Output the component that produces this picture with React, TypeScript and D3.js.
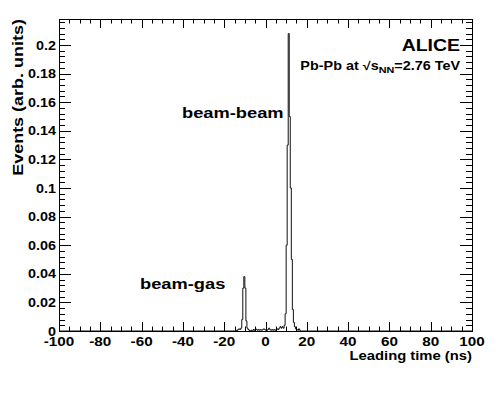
import React from "react";
import * as d3 from "d3";

// histogram: fraction of events per 0.5 ns bin, starting at -15 ns
const binStart = -15;
const binWidth = 0.5;
const events = [
  0, 0.0005, 0, 0.001, 0.0015, 0.001, 0.002, 0.008, 0.03, 0.038,
  0.03, 0.007, 0.002, 0.001, 0.0005, 0, 0.0005, 0, 0.001, 0.0005,
  0.0015, 0.001, 0.0005, 0.001, 0.0005, 0.001, 0.0005, 0.001, 0.0015, 0.001,
  0.0005, 0.0005, 0.001, 0.002, 0.001, 0.0005, 0.001, 0.0005, 0.001, 0.0005,
  0.001, 0.0015, 0.001, 0.002, 0.003, 0.002, 0.003, 0.002, 0.004, 0.012,
  0.06, 0.13, 0.208, 0.15, 0.1, 0.05, 0.015, 0.006, 0.003, 0.0015,
  0.001, 0.0005, 0.0015, 0.0005, 0,
];

const xTicks = [-100, -80, -60, -40, -20, 0, 20, 40, 60, 80, 100];
const yTicks = [0, 0.02, 0.04, 0.06, 0.08, 0.1, 0.12, 0.14, 0.16, 0.18, 0.2];

const W = 498;
const H = 396;
const frame = { left: 59, right: 472, top: 19, bottom: 331 };
const FONT = "'Liberation Sans', Arial, Helvetica, sans-serif";
const SX = 1.18; // ROOT raster font is wider than Arial

function Label(props: {
  x: number; y: number; size: number; anchor?: string; rotate?: number;
  sx?: number; children: React.ReactNode;
}) {
  const { x, y, size, anchor = "start", rotate = 0, sx = SX } = props;
  return (
    <text
      transform={`translate(${x},${y}) rotate(${rotate}) scale(${sx},1)`}
      fontFamily={FONT}
      fontWeight="bold"
      fontSize={size}
      textAnchor={anchor}
      fill="#000"
    >
      {props.children}
    </text>
  );
}

export default function App() {
  const x = d3.scaleLinear().domain([-100, 100]).range([frame.left, frame.right]);
  const y = d3.scaleLinear().domain([0, 0.2182]).range([frame.bottom, frame.top]);

  const pts: [number, number][] = [[-100, 0]];
  events.forEach((v, i) => pts.push([binStart + i * binWidth, v]));
  pts.push([binStart + events.length * binWidth, 0]);
  pts.push([100, 0]);

  const hist = d3
    .line<[number, number]>()
    .x((d) => x(d[0]))
    .y((d) => y(d[1]))
    .curve(d3.curveStepAfter);

  const xMinor = d3.range(-100, 100.1, 5);
  const yMinor = d3.range(0, 0.218, 0.004);

  return (
    <div style={{ position: "absolute", left: 0, top: 0 }}>
      <svg width={W} height={H} style={{ display: "block", background: "#fff" }}>
        {/* histogram */}
        <path d={hist(pts) || ""} fill="none" stroke="#111" strokeWidth={1} />

        {/* x ticks, bottom and top */}
        <g stroke="#000" strokeWidth={1}>
          {xMinor.map((t) => {
            const len = t % 20 === 0 ? 9 : 4.5;
            const px = Math.round(x(t)) + 0.5;
            return (
              <g key={"xt" + t}>
                <line x1={px} x2={px} y1={frame.bottom} y2={frame.bottom - len} />
                <line x1={px} x2={px} y1={frame.top} y2={frame.top + len} />
              </g>
            );
          })}
          {yMinor.map((t, i) => {
            const len = i % 5 === 0 ? 12 : 6;
            const py = Math.round(y(t)) + 0.5;
            return (
              <g key={"yt" + i}>
                <line x1={frame.left} x2={frame.left + len} y1={py} y2={py} />
                <line x1={frame.right} x2={frame.right - len} y1={py} y2={py} />
              </g>
            );
          })}
        </g>

        {/* frame */}
        <rect
          x={frame.left + 0.5}
          y={frame.top + 0.5}
          width={frame.right - frame.left}
          height={frame.bottom - frame.top}
          fill="none"
          stroke="#000"
          strokeWidth={1}
        />

        {/* tick labels */}
        {xTicks.map((t) => (
          <Label key={"xl" + t} x={x(t)} y={346} size={12.5} anchor="middle" sx={1.22}>
            {t}
          </Label>
        ))}
        {yTicks.map((t) => (
          <Label key={"yl" + t} x={56} y={y(t) + 4.5} size={12.5} anchor="end" sx={1.15}>
            {d3.format("~g")(t)}
          </Label>
        ))}

        {/* axis titles */}
        <Label x={frame.right} y={360} size={13} anchor="end" sx={1.14}>
          Leading time (ns)
        </Label>
        <Label x={23} y={frame.top} size={15} anchor="end" rotate={-90} sx={1.2}>
          Events (arb. units)
        </Label>

        {/* annotations */}
        <Label x={460} y={51} size={16.5} anchor="end">
          ALICE
        </Label>
        <Label x={460} y={70} size={12} anchor="end" sx={1.2}>
          Pb-Pb at √s
          <tspan fontSize={9} dy={3}>NN</tspan>
          <tspan dy={-3}>=2.76 TeV</tspan>
        </Label>
        <Label x={182} y={118} size={15} sx={1.22}>
          beam-beam
        </Label>
        <Label x={140} y={289} size={15} sx={1.22}>
          beam-gas
        </Label>
      </svg>
    </div>
  );
}
